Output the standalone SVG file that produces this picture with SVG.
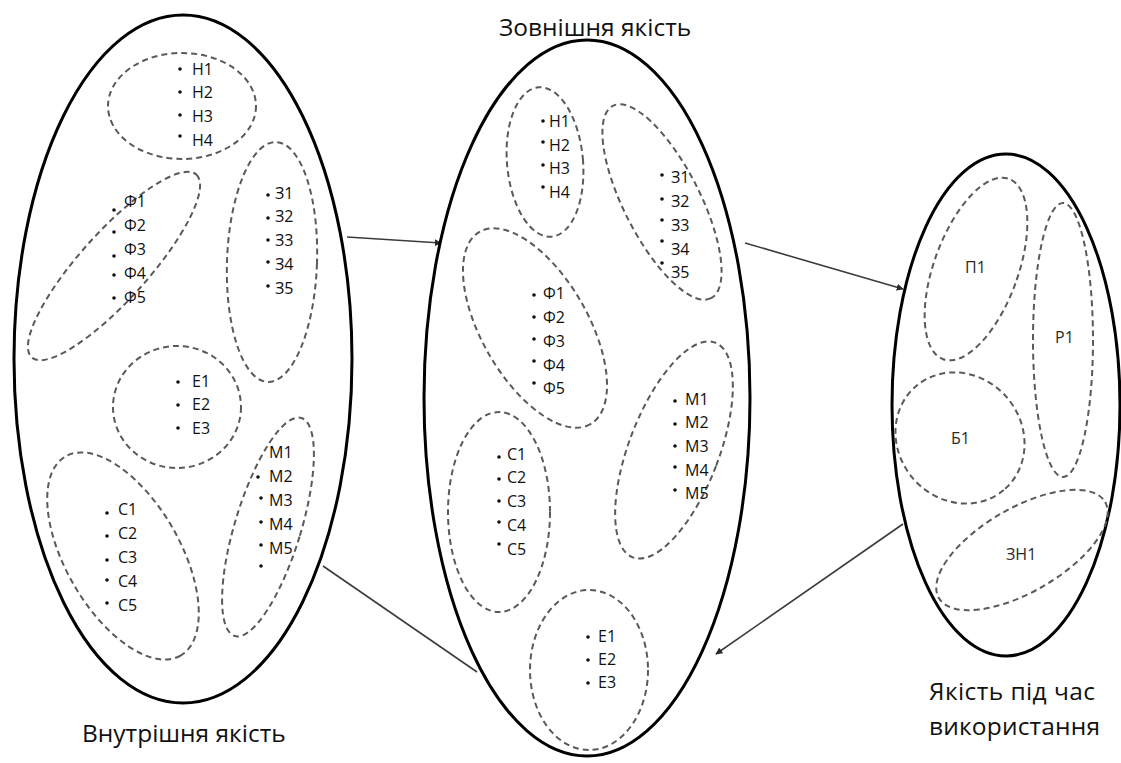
<svg xmlns="http://www.w3.org/2000/svg" width="1121" height="763" viewBox="0 0 1121 763">
  <defs>
    <style>
      .main { fill: none; stroke: #000; stroke-width: 3; }
      .sub { fill: none; stroke: #5a5a5a; stroke-width: 2; stroke-dasharray: 6 4; }
      .lbl { font-family: "Open Sans", "Liberation Sans", sans-serif; font-size: 16px; fill: #111; }
      .lbl2 { font-family: "Open Sans", "Liberation Sans", sans-serif; font-size: 16px; fill: #2a2a2a; }
      .ttl { font-family: "Open Sans", "Liberation Sans", sans-serif; font-size: 24.5px; fill: #111; }
      .dot { fill: #111; }
      .conn { fill: none; stroke: #3c3c3c; stroke-width: 1.6; }
    </style>
    <marker id="arrow" viewBox="0 0 10 10" refX="9" refY="5" markerWidth="7" markerHeight="7" markerUnits="userSpaceOnUse" orient="auto">
      <path d="M0,0 L10,5 L0,10 z" fill="#2a2a2a"/>
    </marker>
  </defs>
  <rect width="1121" height="763" fill="#fff"/>

  <!-- connectors between the quality models -->
  <g id="connectors">
    <line class="conn" x1="347" y1="237" x2="441" y2="243" marker-end="url(#arrow)"/>
    <line class="conn" x1="745" y1="243" x2="903" y2="289" marker-end="url(#arrow)"/>
    <line class="conn" x1="903" y1="524" x2="716" y2="654" marker-end="url(#arrow)"/>
    <line class="conn" x1="323" y1="566" x2="477" y2="672"/>
  </g>

  <!-- internal quality -->
  <g id="internal">
    <ellipse class="main" cx="183" cy="359" rx="169" ry="344"/>
    <text class="ttl" x="82" y="742">Внутрішня якість</text>
  </g>
  <g id="internal-n">
    <ellipse class="sub" cx="182" cy="106" rx="74" ry="53"/>
    <circle class="dot" cx="180" cy="69" r="1.8"/><text class="lbl" x="192" y="75">Н1</text>
    <circle class="dot" cx="180" cy="92" r="1.8"/><text class="lbl" x="192" y="98">Н2</text>
    <circle class="dot" cx="180" cy="115" r="1.8"/><text class="lbl" x="192" y="122">Н3</text>
    <circle class="dot" cx="180" cy="136" r="1.8"/><text class="lbl" x="192" y="146">Н4</text>
  </g>
  <g id="internal-f">
    <ellipse class="sub" cx="114" cy="266" rx="123" ry="34" transform="rotate(-48 114 266)"/>
    <circle class="dot" cx="114" cy="210" r="1.8"/><text class="lbl" x="124" y="207">Ф1</text>
    <circle class="dot" cx="114" cy="232" r="1.8"/><text class="lbl" x="124" y="231">Ф2</text>
    <circle class="dot" cx="114" cy="256" r="1.8"/><text class="lbl" x="124" y="255">Ф3</text>
    <circle class="dot" cx="114" cy="275" r="1.8"/><text class="lbl" x="124" y="279">Ф4</text>
    <circle class="dot" cx="114" cy="298" r="1.8"/><text class="lbl" x="124" y="303">Ф5</text>
  </g>
  <g id="internal-z">
    <ellipse class="sub" cx="272" cy="262" rx="45" ry="120" transform="rotate(2 272 262)"/>
    <circle class="dot" cx="268" cy="195" r="1.8"/><text class="lbl" x="275" y="199">З1</text>
    <circle class="dot" cx="268" cy="218" r="1.8"/><text class="lbl" x="275" y="222">З2</text>
    <circle class="dot" cx="268" cy="240" r="1.8"/><text class="lbl" x="275" y="246">З3</text>
    <circle class="dot" cx="268" cy="262" r="1.8"/><text class="lbl" x="275" y="270">З4</text>
    <circle class="dot" cx="268" cy="286" r="1.8"/><text class="lbl" x="275" y="294">З5</text>
  </g>
  <g id="internal-e">
    <ellipse class="sub" cx="177" cy="407" rx="64" ry="61"/>
    <circle class="dot" cx="178" cy="382" r="1.8"/><text class="lbl" x="192" y="387">Е1</text>
    <circle class="dot" cx="178" cy="405" r="1.8"/><text class="lbl" x="192" y="410">Е2</text>
    <circle class="dot" cx="178" cy="428" r="1.8"/><text class="lbl" x="192" y="434">Е3</text>
  </g>
  <g id="internal-c">
    <ellipse class="sub" cx="123" cy="556" rx="115" ry="57" transform="rotate(60 123 556)"/>
    <circle class="dot" cx="107" cy="513" r="1.8"/><text class="lbl" x="118" y="515">С1</text>
    <circle class="dot" cx="107" cy="536" r="1.8"/><text class="lbl" x="118" y="539">С2</text>
    <circle class="dot" cx="107" cy="560" r="1.8"/><text class="lbl" x="118" y="563">С3</text>
    <circle class="dot" cx="107" cy="580" r="1.8"/><text class="lbl" x="118" y="587">С4</text>
    <circle class="dot" cx="107" cy="603" r="1.8"/><text class="lbl" x="118" y="611">С5</text>
  </g>
  <g id="internal-m">
    <ellipse class="sub" cx="268" cy="527" rx="33" ry="114" transform="rotate(17 268 527)"/>
    <text class="lbl" x="269" y="458">М1</text>
    <circle class="dot" cx="258" cy="477" r="1.8"/><text class="lbl" x="269" y="482">М2</text>
    <circle class="dot" cx="261" cy="498" r="1.8"/><text class="lbl" x="269" y="506">М3</text>
    <circle class="dot" cx="261" cy="522" r="1.8"/><text class="lbl" x="269" y="530">М4</text>
    <circle class="dot" cx="261" cy="545" r="1.8"/><text class="lbl" x="269" y="554">М5</text>
    <circle class="dot" cx="261" cy="566" r="1.8"/>
  </g>

  <!-- external quality -->
  <g id="external">
    <ellipse class="main" cx="587" cy="398" rx="163" ry="358"/>
    <text class="ttl" x="499" y="36">Зовнішня якість</text>
  </g>
  <g id="external-n">
    <ellipse class="sub" cx="545" cy="162" rx="38" ry="75" transform="rotate(-5 545 162)"/>
    <circle class="dot" cx="543" cy="121" r="1.8"/><text class="lbl" x="549" y="127">Н1</text>
    <circle class="dot" cx="543" cy="142" r="1.8"/><text class="lbl" x="549" y="151">Н2</text>
    <circle class="dot" cx="543" cy="165" r="1.8"/><text class="lbl" x="549" y="174">Н3</text>
    <circle class="dot" cx="543" cy="187" r="1.8"/><text class="lbl" x="549" y="198">Н4</text>
  </g>
  <g id="external-z">
    <ellipse class="sub" cx="662" cy="202" rx="108" ry="38" transform="rotate(63 662 202)"/>
    <circle class="dot" cx="662" cy="175" r="1.8"/><text class="lbl" x="671" y="183">З1</text>
    <circle class="dot" cx="662" cy="199" r="1.8"/><text class="lbl" x="671" y="207">З2</text>
    <circle class="dot" cx="662" cy="220" r="1.8"/><text class="lbl" x="671" y="231">З3</text>
    <circle class="dot" cx="662" cy="241" r="1.8"/><text class="lbl" x="671" y="255">З4</text>
    <circle class="dot" cx="662" cy="263" r="1.8"/><text class="lbl" x="671" y="278">З5</text>
  </g>
  <g id="external-f">
    <ellipse class="sub" cx="535" cy="328" rx="111" ry="53" transform="rotate(60 535 328)"/>
    <circle class="dot" cx="534" cy="295" r="1.8"/><text class="lbl" x="543" y="299">Ф1</text>
    <circle class="dot" cx="534" cy="317" r="1.8"/><text class="lbl" x="543" y="323">Ф2</text>
    <circle class="dot" cx="534" cy="339" r="1.8"/><text class="lbl" x="543" y="347">Ф3</text>
    <circle class="dot" cx="534" cy="361" r="1.8"/><text class="lbl" x="543" y="371">Ф4</text>
    <circle class="dot" cx="534" cy="383" r="1.8"/><text class="lbl" x="543" y="394">Ф5</text>
  </g>
  <g id="external-m">
    <ellipse class="sub" cx="674" cy="450" rx="45" ry="115" transform="rotate(21 674 450)"/>
    <circle class="dot" cx="675" cy="401" r="1.8"/><text class="lbl" x="685" y="405">М1</text>
    <circle class="dot" cx="675" cy="424" r="1.8"/><text class="lbl" x="685" y="428">М2</text>
    <circle class="dot" cx="675" cy="446" r="1.8"/><text class="lbl" x="685" y="452">М3</text>
    <circle class="dot" cx="675" cy="467" r="1.8"/><text class="lbl" x="685" y="476">М4</text>
    <circle class="dot" cx="675" cy="490" r="1.8"/><text class="lbl" x="685" y="499">М5</text>
  </g>
  <g id="external-c">
    <ellipse class="sub" cx="499" cy="512" rx="51" ry="100"/>
    <circle class="dot" cx="499" cy="457" r="1.8"/><text class="lbl" x="507" y="460">С1</text>
    <circle class="dot" cx="499" cy="479" r="1.8"/><text class="lbl" x="507" y="483">С2</text>
    <circle class="dot" cx="499" cy="501" r="1.8"/><text class="lbl" x="507" y="507">С3</text>
    <circle class="dot" cx="499" cy="522" r="1.8"/><text class="lbl" x="507" y="531">С4</text>
    <circle class="dot" cx="499" cy="544" r="1.8"/><text class="lbl" x="507" y="555">С5</text>
  </g>
  <g id="external-e">
    <ellipse class="sub" cx="589" cy="670" rx="59" ry="80"/>
    <circle class="dot" cx="588" cy="637" r="1.8"/><text class="lbl" x="598" y="642">Е1</text>
    <circle class="dot" cx="588" cy="660" r="1.8"/><text class="lbl" x="598" y="665">Е2</text>
    <circle class="dot" cx="588" cy="683" r="1.8"/><text class="lbl" x="598" y="688">Е3</text>
  </g>

  <!-- quality in use -->
  <g id="in-use">
    <ellipse class="main" cx="1006" cy="405" rx="114" ry="251"/>
    <text class="ttl" x="929" y="700" textLength="166" lengthAdjust="spacing">Якість під час</text>
    <text class="ttl" x="929" y="735" textLength="171" lengthAdjust="spacing">використання</text>
  </g>
  <g id="in-use-p">
    <ellipse class="sub" cx="976" cy="269" rx="42" ry="96" transform="rotate(20 976 269)"/>
    <text class="lbl2" x="965" y="273">П1</text>
  </g>
  <g id="in-use-r">
    <ellipse class="sub" cx="1063" cy="340" rx="30" ry="137"/>
    <text class="lbl2" x="1055" y="343">Р1</text>
  </g>
  <g id="in-use-b">
    <ellipse class="sub" cx="960" cy="438" rx="68" ry="62" transform="rotate(50 960 438)"/>
    <text class="lbl2" x="951" y="444">Б1</text>
  </g>
  <g id="in-use-zn">
    <ellipse class="sub" cx="1022" cy="550" rx="96" ry="42" transform="rotate(-30 1022 550)"/>
    <text class="lbl2" x="1006" y="560">ЗН1</text>
  </g>
</svg>
